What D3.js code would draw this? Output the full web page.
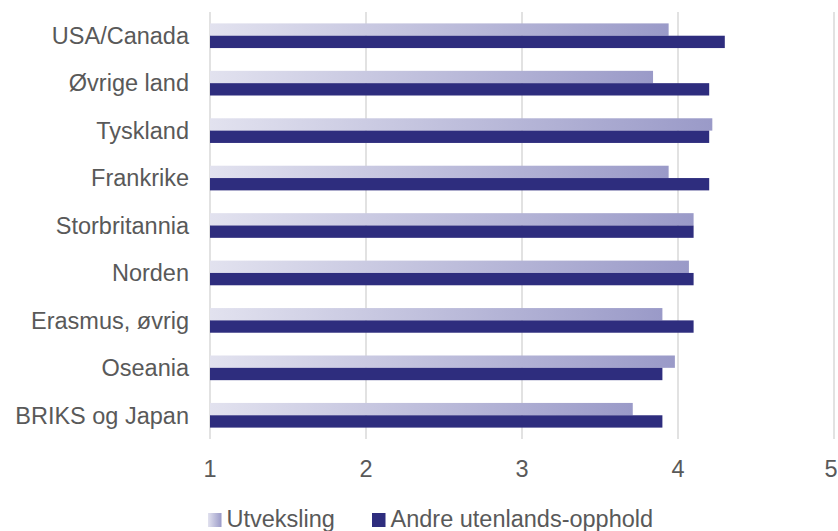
<!DOCTYPE html>
<html>
<head>
<meta charset="utf-8">
<script src="https://cdn.jsdelivr.net/npm/d3@7"></script>
<style>
  body { margin: 0; background: #fff; }
  text { font-family: "Liberation Sans", Arial, Helvetica, sans-serif; fill: #595959; }
</style>
</head>
<body>
<div id="chart"></div>
<script>
// categories top to bottom
var categories = ["USA/Canada", "Øvrige land", "Tyskland", "Frankrike", "Storbritannia",
                  "Norden", "Erasmus, øvrig", "Oseania", "BRIKS og Japan"];
var seriesNames = ["Utveksling", "Andre utenlands-opphold"];
var utveksling = [3.94, 3.84, 4.22, 3.94, 4.10, 4.07, 3.90, 3.98, 3.71];
var andre      = [4.30, 4.20, 4.20, 4.20, 4.10, 4.10, 4.10, 3.90, 3.90];
var xTicks = [1, 2, 3, 4, 5];

var width = 838, height = 531;
var fontSize = 23.5;

var svg = d3.select("#chart").append("svg")
    .attr("width", width)
    .attr("height", height);

var defs = svg.append("defs");
var grad = defs.append("linearGradient")
    .attr("id", "utvGrad")
    .attr("x1", "0").attr("y1", "0").attr("x2", "1").attr("y2", "0");
grad.append("stop").attr("offset", "0%").attr("stop-color", "#e2e2ef");
grad.append("stop").attr("offset", "100%").attr("stop-color", "#9a9ac8");

var x = d3.scaleLinear().domain([1, 5]).range([210, 834]);
var y = d3.scaleBand().domain(categories).range([12, 439])
    .paddingInner(0.48).paddingOuter(0.24);
var sub = d3.scaleBand().domain(seriesNames).range([0, y.bandwidth()]);

// gridlines (incl. the axis line at 1)
svg.append("g").selectAll("line")
    .data(xTicks)
    .enter().append("line")
    .attr("x1", d => x(d)).attr("x2", d => x(d))
    .attr("y1", 12).attr("y2", 439)
    .attr("stroke", "#d9d9d9")
    .attr("stroke-width", 1.5);

var rows = categories.map(function(c, i) {
    return { cat: c, utv: utveksling[i], andre: andre[i] };
});

// bars
var g = svg.append("g");
g.selectAll(".utv")
    .data(rows)
    .enter().append("rect")
    .attr("class", "utv")
    .attr("x", x(1))
    .attr("y", d => y(d.cat) + sub(seriesNames[0]))
    .attr("width", d => x(d.utv) - x(1))
    .attr("height", sub.bandwidth())
    .attr("fill", "url(#utvGrad)");

g.selectAll(".andre")
    .data(rows)
    .enter().append("rect")
    .attr("class", "andre")
    .attr("x", x(1))
    .attr("y", d => y(d.cat) + sub(seriesNames[1]))
    .attr("width", d => x(d.andre) - x(1))
    .attr("height", sub.bandwidth())
    .attr("fill", "#2e2d7e");

// category labels
svg.append("g").selectAll("text")
    .data(categories)
    .enter().append("text")
    .attr("x", x(1) - 21)
    .attr("y", d => y(d) + y.bandwidth() / 2)
    .attr("dy", "0.35em")
    .attr("text-anchor", "end")
    .style("font-size", fontSize + "px")
    .text(d => d);

// x tick labels (last one is pushed in so it stays inside the frame)
svg.append("g").selectAll("text")
    .data(xTicks)
    .enter().append("text")
    .attr("x", d => Math.min(x(d), width - 7))
    .attr("y", 477)
    .attr("text-anchor", "middle")
    .style("font-size", fontSize + "px")
    .text(d => d);

// legend
var legend = [
    { name: seriesNames[0], fill: "url(#utvGrad)", x: 208 },
    { name: seriesNames[1], fill: "#2e2d7e", x: 372 }
];
var lg = svg.append("g").selectAll("g")
    .data(legend)
    .enter().append("g")
    .attr("transform", d => "translate(" + d.x + ",513)");
lg.append("rect")
    .attr("width", 13.5).attr("height", 14)
    .attr("fill", d => d.fill);
lg.append("text")
    .attr("x", 18.5)
    .attr("y", 14)
    .style("font-size", fontSize + "px")
    .text(d => d.name);
</script>
</body>
</html>
